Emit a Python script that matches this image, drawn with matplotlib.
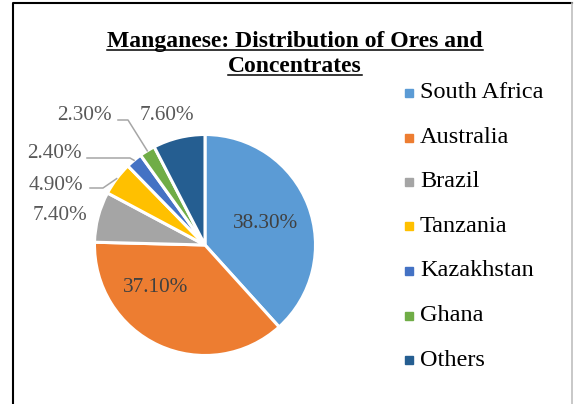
import numpy as np
import matplotlib
matplotlib.use('Agg')
import matplotlib.pyplot as plt
from matplotlib.patches import Rectangle

# data
countries = ['South Africa', 'Australia', 'Brazil', 'Tanzania',
             'Kazakhstan', 'Ghana', 'Others']
shares = [38.3, 37.1, 7.4, 4.9, 2.4, 2.3, 7.6]
colors = ['#5B9BD5', '#ED7D31', '#A5A5A5', '#FFC000',
          '#4472C4', '#70AD47', '#255E91']

W, H = 574, 404
plt.rcParams['font.family'] = ['Liberation Serif', 'DejaVu Serif']

fig = plt.figure(figsize=(W / 100, H / 100), dpi=100)

# chart border: dark left/top, light right edge, bottom is cut off
fig.add_artist(plt.Line2D([12.5 / W, 12.5 / W, 572 / W], [0, 1 - 2.5 / H, 1 - 2.5 / H],
                          color='black', linewidth=1.5))
fig.add_artist(plt.Line2D([572 / W, 572 / W], [0, 1 - 2.5 / H],
                          color='#BFBFBF', linewidth=1.2))

cx, cy, r = 205, 245, 110.5
ax = fig.add_axes([(cx - r) / W, (H - cy - r) / H, 2 * r / W, 2 * r / H])

wedges, _ = ax.pie(shares, colors=colors, startangle=90, counterclock=False,
                   radius=1, wedgeprops=dict(edgecolor='white', linewidth=2.2))
ax.set_xlim(-1, 1)
ax.set_ylim(-1, 1)
ax.axis('off')


def px(x, y):
    # pixel position (from top-left) -> data coords of the pie axes
    return (x - cx) / r, (cy - y) / r


# inside labels (pixel layout)
inside = {0: (266, 223), 1: (156, 288)}
# outside labels: text centre, leader start x, elbow (x, y)
outside = {2: ((60, 216), None, None),
           3: ((56, 185), 90, (103, 188)),
           4: ((54, 153), 87, (130, 158)),
           5: ((84, 115), 118, (128, 120)),
           6: ((167, 115), None, None)}

for i, w in enumerate(wedges):
    txt = f'{shares[i]:.2f}%'
    if i in inside:
        x, y = px(*inside[i])
        ax.text(x, y, txt, ha='center', va='center', fontsize=15.3, color='#404040')
        continue
    (tx, ty), sx, elbow = outside[i]
    x, y = px(tx, ty)
    ax.text(x, y, txt, ha='center', va='center', fontsize=15.3, color='#595959')
    if elbow is not None:
        mid = np.deg2rad((w.theta1 + w.theta2) / 2)
        ex, ey = px(*elbow)
        x0, _ = px(sx, 0)
        ax.plot([x0, ex, np.cos(mid)], [ey, ey, np.sin(mid)],
                color='#A6A6A6', linewidth=1.1, clip_on=False)

# title, two lines, bold and underlined
title_lines = ['Manganese: Distribution of Ores and', 'Concentrates']
fig.canvas.draw()
rend = fig.canvas.get_renderer()
for line, base in zip(title_lines, [47, 72]):
    t = fig.text(295 / W, 1 - base / H, line, ha='center', va='baseline',
                 fontsize=17, fontweight='bold')
    bb = t.get_window_extent(renderer=rend)
    uy = 1 - (base + 3) / H
    fig.add_artist(plt.Line2D([bb.x0 / W, bb.x1 / W], [uy, uy],
                              color='black', linewidth=1.1))

# legend
for i, name in enumerate(countries):
    yy = 93 + i * 44.5
    fig.patches.append(Rectangle((405 / W, 1 - (yy + 4) / H), 8 / W, 8 / H,
                                 transform=fig.transFigure, color=colors[i]))
    fig.text(420 / W, 1 - yy / H, name, ha='left', va='center', fontsize=17.5)

fig.savefig('out.png', dpi=100)
